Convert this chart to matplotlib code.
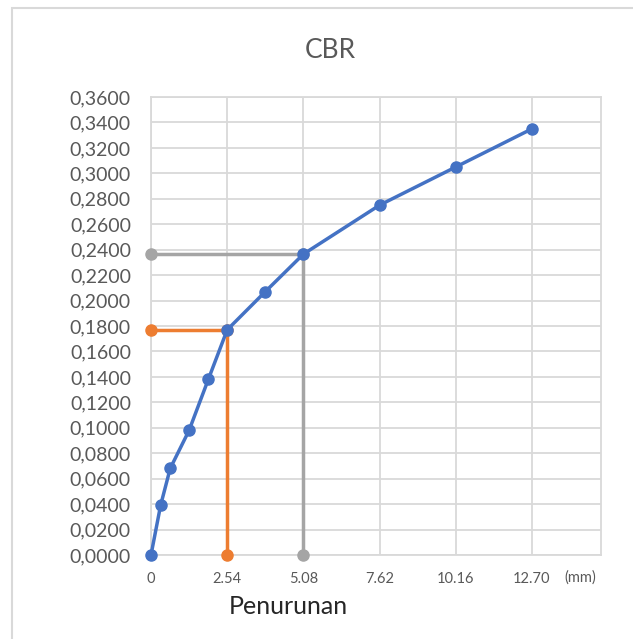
import matplotlib
matplotlib.use("Agg")
import matplotlib.pyplot as plt
from matplotlib.patches import Rectangle

# Data
penetration_mm = [0, 0.32, 0.64, 1.27, 1.91, 2.54, 3.81, 5.08, 7.62, 10.16, 12.70]
load_values = [0.0, 0.039, 0.068, 0.098, 0.138, 0.177, 0.207, 0.2365, 0.275, 0.305, 0.335]
ref_254_x = [0, 2.54, 2.54]
ref_254_y = [0.177, 0.177, 0.0]
ref_508_x = [0, 5.08, 5.08]
ref_508_y = [0.2365, 0.2365, 0.0]
x_ticks = [0, 2.54, 5.08, 7.62, 10.16, 12.70]
x_tick_labels = ["0", "2.54", "5.08", "7.62", "10.16", "12.70"]
y_ticks = [i * 0.02 for i in range(19)]
y_tick_labels = ["0,%04d" % round(v * 10000) for v in y_ticks]

plt.rcParams['font.family'] = ['Lato', 'DejaVu Sans']

fig = plt.figure(figsize=(6.33, 6.39), dpi=100)
fig.patches.append(Rectangle((12/633, -0.1), 1.0, 1 - 8/639 + 0.1, transform=fig.transFigure,
                             fill=False, edgecolor='#D9D9D9', linewidth=1.5))
ax = fig.add_axes([151/633, 1 - 555/639, (601 - 151)/633, (555 - 97)/639])

grid_c = '#D9D9D9'
text_c = '#595959'

ax.plot(ref_508_x, ref_508_y, color='#A5A5A5', linewidth=2.5, marker='o', markersize=8, zorder=3, clip_on=False)
ax.plot(ref_254_x, ref_254_y, color='#ED7D31', linewidth=2.5, marker='o', markersize=8, zorder=3, clip_on=False)
ax.plot(penetration_mm, load_values, color='#4472C4', linewidth=2.5, marker='o', markersize=8, zorder=4, clip_on=False)

ax.set_xlim(0, 15.0)
ax.set_ylim(0, 0.36)
ax.set_xticks(x_ticks)
ax.set_xticklabels(x_tick_labels)
ax.set_yticks(y_ticks)
ax.set_yticklabels(y_tick_labels)
ax.grid(True, color=grid_c, linewidth=1.3, zorder=0)
ax.set_axisbelow(True)
for s in ax.spines.values():
    s.set_color(grid_c)
    s.set_linewidth(1.3)
ax.tick_params(axis='both', length=0, colors=text_c)
ax.tick_params(axis='y', labelsize=14, pad=14.4)
ax.tick_params(axis='x', labelsize=10.5, pad=12)

fig.text(580.5/633, 1 - 578/639, "(mm)", ha='center', va='center', fontsize=10.5, color=text_c)
fig.text(288/633, 1 - 607/639, "Penurunan", ha='center', va='center', fontsize=18, color='#262626')
fig.text(330/633, 1 - 51/639, "CBR", ha='center', va='center', fontsize=19, color=text_c)

fig.savefig("out.png", dpi=100, facecolor='white')
